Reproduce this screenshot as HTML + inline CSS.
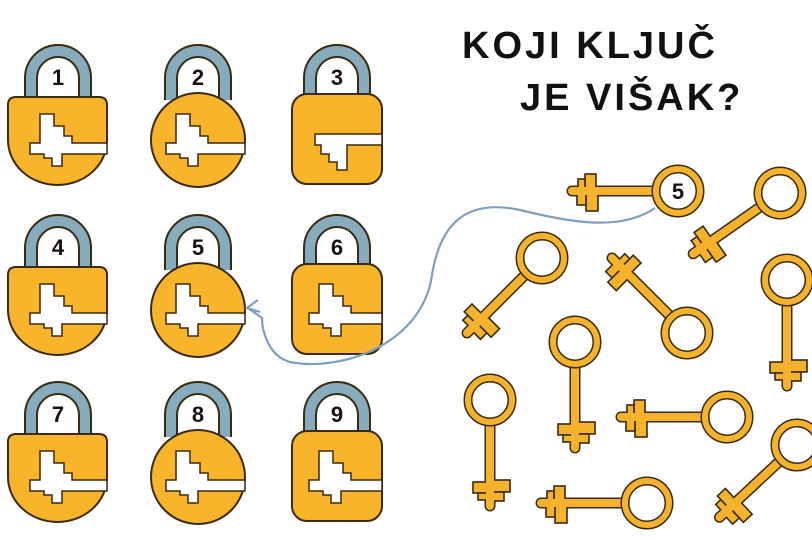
<!DOCTYPE html>
<html><head><meta charset="utf-8"><style>
html,body{margin:0;padding:0;background:#fff;}
svg{display:block;}
</style></head><body>
<svg width="812" height="540" viewBox="0 0 812 540" xmlns="http://www.w3.org/2000/svg">
<defs>
<g id="key">
  <line x1="20" y1="0" x2="106" y2="0" stroke="#3a2a10" stroke-width="11" stroke-linecap="round"/>
  <rect x="80" y="-20" width="12" height="17" fill="#f5b22c" stroke="#3a2a10" stroke-width="1.6"/>
  <rect x="92" y="-14" width="9" height="11" fill="#f5b22c" stroke="#3a2a10" stroke-width="1.6"/>
  <rect x="82" y="3" width="11" height="14" fill="#f5b22c" stroke="#3a2a10" stroke-width="1.6"/>
  <rect x="93" y="3" width="7" height="9" fill="#f5b22c" stroke="#3a2a10" stroke-width="1.6"/>
  <line x1="20" y1="0" x2="106" y2="0" stroke="#f5b22c" stroke-width="8" stroke-linecap="round"/>
  <circle cx="0" cy="0" r="22" fill="#fff" stroke="#3a2a10" stroke-width="9"/>
  <circle cx="0" cy="0" r="22" fill="none" stroke="#f5b22c" stroke-width="6"/>
</g>
<g id="shackle">
  <path d="M-27,-40 L-27,-62 A27,27 0 0 1 27,-62 L27,-40" fill="none" stroke="#3a2a10" stroke-width="14"/>
  <path d="M-27,-40 L-27,-62 A27,27 0 0 1 27,-62 L27,-40" fill="none" stroke="#86acbd" stroke-width="10"/>
</g>
<path id="slot" d="M-28,3 L-18,3 L-18,-26 L-4,-26 L-4,-14 L6,-14 L6,-4 L14,-4 L14,3 L49,3 L49,14 L4,14 L4,26 L-6,26 L-6,18 L-14,18 L-14,14 L-28,14 Z" fill="#fff" stroke="#3a2a10" stroke-width="1.5"/>
<path id="slotc" d="M-28,3 L-18,3 L-18,-26 L-4,-26 L-4,-14 L6,-14 L6,-4 L14,-4 L14,3 L51,3 L51,14 L4,14 L4,26 L-6,26 L-6,18 L-14,18 L-14,14 L-28,14 Z" fill="#fff" stroke="#3a2a10" stroke-width="1.5"/>
<path id="slot3" d="M-22,-6 L45,-6 L45,5 L10,5 L10,30 L0,30 L0,22 L-8,22 L-8,14 L-16,14 L-16,5 L-22,5 Z" fill="#fff" stroke="#3a2a10" stroke-width="1.5"/>
<path id="slotr" d="M-28,3 L-18,3 L-18,-26 L-4,-26 L-4,-14 L6,-14 L6,-4 L14,-4 L14,3 L45,3 L45,14 L4,14 L4,26 L-6,26 L-6,18 L-14,18 L-14,14 L-28,14 Z" fill="#fff" stroke="#3a2a10" stroke-width="1.5"/>
</defs>

<g font-family="Liberation Sans, sans-serif" font-weight="bold" font-size="22" fill="#1a0f12" text-anchor="middle">
<g transform="translate(58,140)">
  <use href="#shackle"/>
  <path d="M-50,-35 Q-50,-43 -42,-43 L41,-43 Q49,-43 49,-35 L49,0 A49.5,45 0 0 1 -50,0 Z" fill="#f8b42a" stroke="#3a2a10" stroke-width="2"/>
  <use href="#slot"/><text x="0" y="-55">1</text>
</g>
<g transform="translate(198,140)">
  <use href="#shackle"/>
  <circle r="47" fill="#f8b42a" stroke="#3a2a10" stroke-width="2"/>
  <use href="#slotc" transform="translate(-4,0)"/><text x="0" y="-55">2</text>
</g>
<g transform="translate(337,140)">
  <use href="#shackle"/>
  <rect x="-45" y="-46" width="90" height="90" rx="15" fill="#f8b42a" stroke="#3a2a10" stroke-width="2"/>
  <use href="#slot3"/><text x="0" y="-55">3</text>
</g>
<g transform="translate(58,310)">
  <use href="#shackle"/>
  <path d="M-50,-35 Q-50,-43 -42,-43 L41,-43 Q49,-43 49,-35 L49,0 A49.5,45 0 0 1 -50,0 Z" fill="#f8b42a" stroke="#3a2a10" stroke-width="2"/>
  <use href="#slot"/><text x="0" y="-55">4</text>
</g>
<g transform="translate(198,310)">
  <use href="#shackle"/>
  <circle r="47" fill="#f8b42a" stroke="#3a2a10" stroke-width="2"/>
  <use href="#slotc" transform="translate(-4,0)"/><text x="0" y="-55">5</text>
</g>
<g transform="translate(337,310)">
  <use href="#shackle"/>
  <rect x="-45" y="-46" width="90" height="90" rx="15" fill="#f8b42a" stroke="#3a2a10" stroke-width="2"/>
  <use href="#slotr"/><text x="0" y="-55">6</text>
</g>
<g transform="translate(58,477)">
  <use href="#shackle"/>
  <path d="M-50,-35 Q-50,-43 -42,-43 L41,-43 Q49,-43 49,-35 L49,0 A49.5,45 0 0 1 -50,0 Z" fill="#f8b42a" stroke="#3a2a10" stroke-width="2"/>
  <use href="#slot"/><text x="0" y="-55">7</text>
</g>
<g transform="translate(198,477)">
  <use href="#shackle"/>
  <circle r="47" fill="#f8b42a" stroke="#3a2a10" stroke-width="2"/>
  <use href="#slotc" transform="translate(-4,0)"/><text x="0" y="-55">8</text>
</g>
<g transform="translate(337,477)">
  <use href="#shackle"/>
  <rect x="-45" y="-46" width="90" height="90" rx="15" fill="#f8b42a" stroke="#3a2a10" stroke-width="2"/>
  <use href="#slotr"/><text x="0" y="-55">9</text>
</g>
</g>

<g font-family="Liberation Sans, sans-serif" font-weight="bold" fill="#111">
  <text x="462" y="58" font-size="38" letter-spacing="3">KOJI KLJUČ</text>
  <text x="520" y="110" font-size="38" letter-spacing="3">JE VIŠAK?</text>
</g>

<path d="M655,208 C620,232 570,222 520,210 C465,198 440,225 432,275 C422,345 340,372 290,362 C268,356 262,330 262,318 L248,308" fill="none" stroke="#7f9fbf" stroke-width="2.2"/>
<path d="M258,300 L247,308 L260,312" fill="none" stroke="#7f9fbf" stroke-width="2.2"/>

<use href="#key" transform="translate(678,191) rotate(180)"/>
<text x="678" y="199" font-family="Liberation Sans, sans-serif" font-weight="bold" font-size="22" fill="#1a0f12" text-anchor="middle">5</text>
<use href="#key" transform="translate(780,193) rotate(145)"/>
<use href="#key" transform="translate(542,258) rotate(135)"/>
<use href="#key" transform="translate(687,333) rotate(225)"/>
<use href="#key" transform="translate(787,280) rotate(90)"/>
<use href="#key" transform="translate(575,342) rotate(90)"/>
<use href="#key" transform="translate(490,400) rotate(90)"/>
<use href="#key" transform="translate(727,417) rotate(180)"/>
<use href="#key" transform="translate(647,503) rotate(180)"/>
<use href="#key" transform="translate(797,445) rotate(137)"/>
</svg>
</body></html>
